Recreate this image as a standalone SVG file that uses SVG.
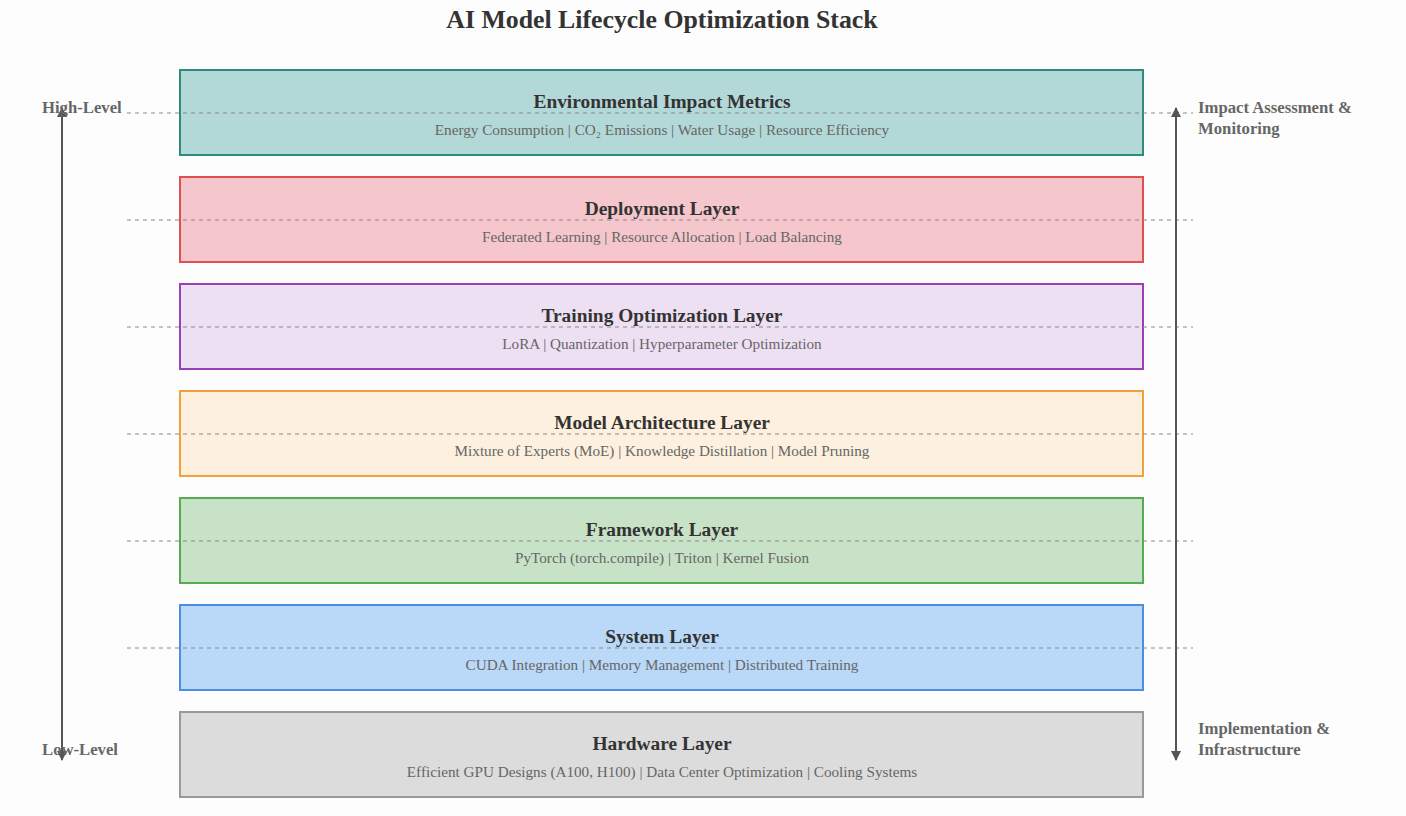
<svg xmlns="http://www.w3.org/2000/svg" width="1406" height="816" viewBox="0 0 1406 816">
<defs>
<marker id="ah" viewBox="0 0 10 10" refX="9" refY="5" markerWidth="5" markerHeight="5" orient="auto-start-reverse" markerUnits="strokeWidth">
<path d="M0,0 L10,5 L0,10 z" fill="#555"/>
</marker>
<style>
text{font-family:"Liberation Serif","Times New Roman",serif}
.title{font-size:25.8px;font-weight:bold;fill:#333;text-anchor:middle}
.lt{font-size:19.4px;font-weight:bold;fill:#333;text-anchor:middle}
.ls{font-size:15.2px;fill:#666;text-anchor:middle}
.side{font-size:16.7px;font-weight:bold;fill:#666}
.box{stroke-width:2}
.dash{stroke:#888;stroke-width:1;stroke-dasharray:4,4;fill:none}
.axis{stroke:#555;stroke-width:2;fill:none}
</style>
</defs>
<rect width="1406" height="816" fill="#fdfdfd"/>
<text class="title" x="662" y="28">AI Model Lifecycle Optimization Stack</text>

<g id="env">
<rect class="box" x="180" y="70" width="963" height="85" fill="#b3d8d8" stroke="#2f8a7c"/>
<text class="lt" x="662" y="108">Environmental Impact Metrics</text>
<text class="ls" x="662" y="135">Energy Consumption | CO₂ Emissions | Water Usage | Resource Efficiency</text>
</g>
<g id="deploy">
<rect class="box" x="180" y="177" width="963" height="85" fill="#f5c6cc" stroke="#e05050"/>
<text class="lt" x="662" y="215">Deployment Layer</text>
<text class="ls" x="662" y="242">Federated Learning | Resource Allocation | Load Balancing</text>
</g>
<g id="train">
<rect class="box" x="180" y="284" width="963" height="85" fill="#eee0f3" stroke="#9b3fb5"/>
<text class="lt" x="662" y="322">Training Optimization Layer</text>
<text class="ls" x="662" y="349">LoRA | Quantization | Hyperparameter Optimization</text>
</g>
<g id="arch">
<rect class="box" x="180" y="391" width="963" height="85" fill="#fdf0de" stroke="#f4a03a"/>
<text class="lt" x="662" y="429">Model Architecture Layer</text>
<text class="ls" x="662" y="456">Mixture of Experts (MoE) | Knowledge Distillation | Model Pruning</text>
</g>
<g id="framework">
<rect class="box" x="180" y="498" width="963" height="85" fill="#c8e2c7" stroke="#5aaa52"/>
<text class="lt" x="662" y="536">Framework Layer</text>
<text class="ls" x="662" y="563">PyTorch (torch.compile) | Triton | Kernel Fusion</text>
</g>
<g id="system">
<rect class="box" x="180" y="605" width="963" height="85" fill="#bad8f7" stroke="#4a8fe4"/>
<text class="lt" x="662" y="643">System Layer</text>
<text class="ls" x="662" y="670">CUDA Integration | Memory Management | Distributed Training</text>
</g>
<g id="hardware">
<rect class="box" x="180" y="712" width="963" height="85" fill="#dcdcdc" stroke="#999"/>
<text class="lt" x="662" y="750">Hardware Layer</text>
<text class="ls" x="662" y="777">Efficient GPU Designs (A100, H100) | Data Center Optimization | Cooling Systems</text>
</g>

<g id="connectors">
<line class="dash" x1="127" y1="113" x2="1193" y2="113"/>
<line class="dash" x1="127" y1="220" x2="1193" y2="220"/>
<line class="dash" x1="127" y1="327" x2="1193" y2="327"/>
<line class="dash" x1="127" y1="434" x2="1193" y2="434"/>
<line class="dash" x1="127" y1="541" x2="1193" y2="541"/>
<line class="dash" x1="127" y1="648" x2="1193" y2="648"/>
<line class="axis" x1="62" y1="108" x2="62" y2="760" marker-start="url(#ah)" marker-end="url(#ah)"/>
<line class="axis" x1="1176" y1="108" x2="1176" y2="760" marker-start="url(#ah)" marker-end="url(#ah)"/>
</g>

<g id="labels">
<text class="side" x="42" y="113">High-Level</text>
<text class="side" x="42" y="755">Low-Level</text>
<text class="side" x="1198" y="113">Impact Assessment &amp;</text>
<text class="side" x="1198" y="134">Monitoring</text>
<text class="side" x="1198" y="734">Implementation &amp;</text>
<text class="side" x="1198" y="755">Infrastructure</text>
</g>
</svg>
